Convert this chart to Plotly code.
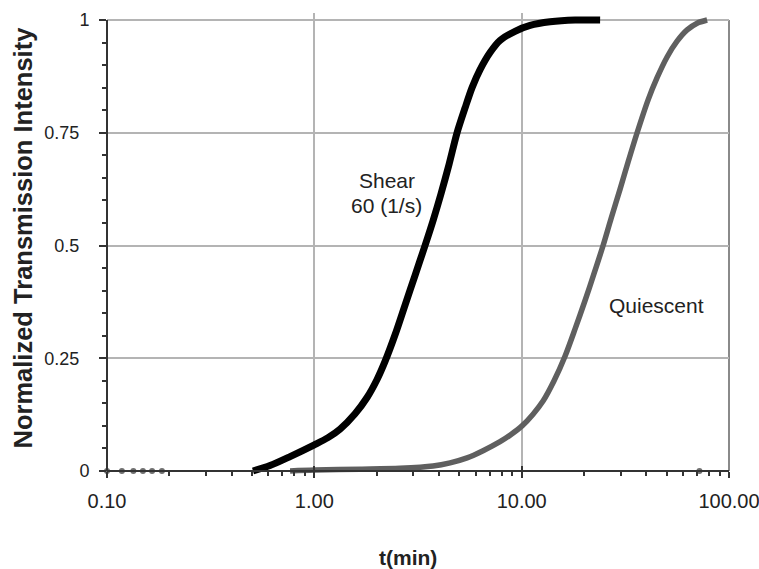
import plotly.graph_objects as go

# ---- data ----
shear_t = [0.506, 0.611, 0.764, 1.00, 1.164, 1.331, 1.572, 1.796, 2.007, 2.193, 2.451, 2.739, 3.061,
           3.420, 3.737, 4.085, 4.465, 4.880, 5.333, 5.764, 6.300, 7.04, 7.87, 9.29, 10.98, 13.71,
           18.10, 23.9]
shear_y = [0.0, 0.012, 0.032, 0.058, 0.074, 0.093, 0.127, 0.163, 0.203, 0.243, 0.302, 0.368, 0.434,
           0.50, 0.555, 0.615, 0.68, 0.75, 0.805, 0.85, 0.89, 0.928, 0.955, 0.975, 0.988, 0.996,
           1.0, 1.0]

quiescent_t = [0.764, 1.0, 1.662, 2.591, 3.737, 4.515, 5.453, 6.513, 7.866, 8.889, 10.04, 11.35,
               12.68, 14.33, 16.20, 18.10, 20.22, 22.35, 24.70, 27.00, 29.83, 32.61, 36.04, 40.73,
               45.00, 50.28, 56.19, 62.81, 70.19, 78.43]
quiescent_y = [0.0, 0.002, 0.004, 0.006, 0.011, 0.018, 0.029, 0.045, 0.065, 0.081, 0.10, 0.126,
               0.155, 0.20, 0.255, 0.315, 0.378, 0.438, 0.50, 0.56, 0.625, 0.685, 0.75, 0.823,
               0.872, 0.918, 0.953, 0.978, 0.993, 1.0]

stray_t = [0.10, 0.118, 0.134, 0.149, 0.165, 0.184, 72.0]
stray_y = [0, 0, 0, 0, 0, 0, 0]

x_tickvals = [0.1, 1, 10, 100]
x_ticktext = ["0.10", "1.00", "10.00", "100.00"]
y_tickvals = [0, 0.25, 0.5, 0.75, 1]
y_ticktext = ["0", "0.25\u00a0\u00a0", "0.5\u00a0\u00a0", "0.75\u00a0\u00a0", "1"]

# ---- geometry ----
W, H = 759, 569
L, R, T, B = 107, 30, 13, 91
pad = 7 / 451.0
plot_h = H - T - B
plot_w = W - L - R

fig = go.Figure()
# empty trace so the overlay axis (inner half of the crossing major ticks) is drawn
fig.add_trace(go.Scatter(x=[], y=[], xaxis="x2", yaxis="y", hoverinfo="skip"))
fig.add_trace(go.Scatter(x=stray_t, y=stray_y, mode="markers",
                         marker=dict(color="#707070", size=6, symbol="circle"),
                         cliponaxis=False, hoverinfo="skip"))
fig.add_trace(go.Scatter(x=quiescent_t, y=quiescent_y, mode="lines",
                         line=dict(color="#5f5f5f", width=5.5, shape="spline", smoothing=0.8)))
fig.add_trace(go.Scatter(x=shear_t, y=shear_y, mode="lines",
                         line=dict(color="#000000", width=7, shape="spline", smoothing=0.8)))

y0_paper = pad / (1 + 2 * pad)
tick_font = "Liberation Sans, Arial, sans-serif"

fig.update_layout(
    xaxis=dict(type="log", range=[-1, 2], tickvals=x_tickvals, ticktext=x_ticktext,
               showgrid=True, gridcolor="#b4b4b4", gridwidth=1.5,
               showline=True, linecolor="#333333", linewidth=2,
               ticks="outside", ticklen=6, tickwidth=1.5, tickcolor="#333333",
               minor=dict(ticks="outside", ticklen=4, tickwidth=1.5, tickcolor="#333333",
                          dtick="D1", showgrid=False),
               anchor="free", position=y0_paper, zeroline=False,
               tickfont=dict(family=tick_font, size=20, color="#222222"),
               ticklabelstandoff=6, ticklabeloverflow="allow"),
    xaxis2=dict(type="log", range=[-1, 2], tickvals=x_tickvals, overlaying="x",
                anchor="free", position=y0_paper, side="bottom",
                showgrid=False, showline=False, zeroline=False, showticklabels=False,
                ticks="inside", ticklen=5, tickwidth=1.5, tickcolor="#333333"),
    yaxis=dict(range=[-pad, 1 + pad], tickvals=y_tickvals, ticktext=y_ticktext,
               showgrid=True, gridcolor="#b4b4b4", gridwidth=1.5,
               showline=False, zeroline=False,
               ticks="outside", ticklen=7, tickwidth=1.5, tickcolor="#333333",
               minor=dict(ticks="outside", ticklen=4, tickwidth=1.5, tickcolor="#333333",
                          tick0=0, dtick=0.05, showgrid=False),
               tickfont=dict(family=tick_font, size=18, color="#222222"),
               ticklabelstandoff=6),
)

# frame lines
fig.add_shape(type="line", xref="x domain", yref="y", x0=0, x1=0, y0=0, y1=1,
              line=dict(color="#333333", width=2))
fig.add_shape(type="line", xref="x domain", yref="y", x0=0, x1=1, y0=1, y1=1,
              line=dict(color="#8a8a8a", width=2), layer="below")
fig.add_shape(type="line", xref="x domain", yref="y", x0=1, x1=1, y0=0, y1=1,
              line=dict(color="#8a8a8a", width=2), layer="below")


def px_to_paper(px, py):
    return (px - L) / plot_w, (H - B - py) / plot_h


def label(px, py, text, size, angle=0):
    ax, ay = px_to_paper(px, py)
    fig.add_annotation(x=ax, y=ay, xref="paper", yref="paper", text=text, showarrow=False,
                       xanchor="center", yanchor="middle", textangle=angle,
                       font=dict(family=tick_font, size=size, color="#222222"))


label(386.5, 180, "Shear", 21)
label(386.5, 205, "60 (1/s)", 21)
label(656, 305, "Quiescent", 21)
label(408, 557, "<b>t(min)</b>", 21)
label(22.5, 238, "<b>Normalized Transmission Intensity</b>", 25.5, angle=-90)

fig.update_layout(width=W, height=H, showlegend=False,
                  margin=dict(l=L, r=R, t=T, b=B, autoexpand=False),
                  paper_bgcolor="white", plot_bgcolor="white")

fig.write_html("out.html")
